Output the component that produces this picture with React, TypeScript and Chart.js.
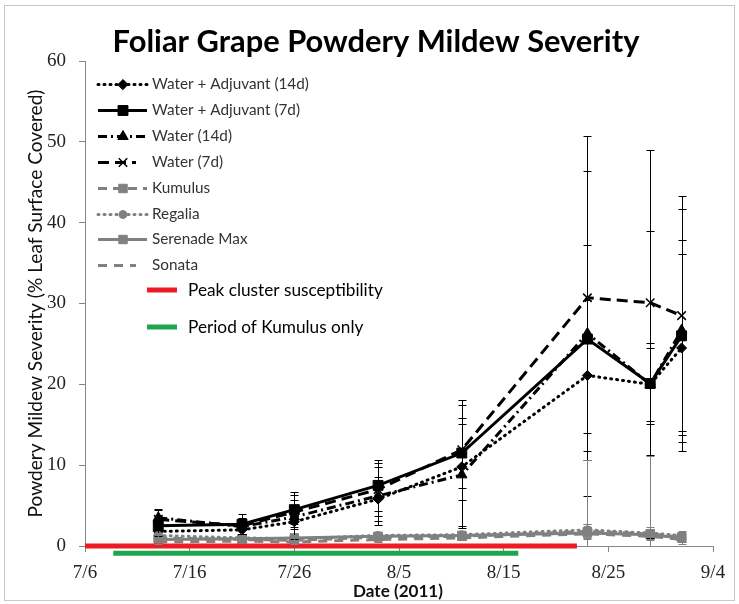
import React, { useEffect, useRef } from 'react';
import { Chart, registerables } from 'chart.js';
import { drawPoint } from 'chart.js/helpers';

Chart.register(...registerables);

// x values: days after 7/6/2011
const dateDays = [7, 15, 20, 28, 36, 48, 54, 57];
const xTickLabels = ['7/6', '7/16', '7/26', '8/5', '8/15', '8/25', '9/4'];

const waterAdj14 = [1.8, 2.0, 3.0, 5.8, 9.8, 21.1, 20.0, 24.5];
const waterAdj14Err = [0.6, 0.5, 0.9, 2.7, 7.6, 9.3, 4.5, 11.6];
const waterAdj7 = [2.5, 2.7, 4.5, 7.5, 11.5, 25.6, 20.1, 26.0];
const waterAdj7Err = [1.2, 1.3, 2.2, 3.2, 4.3, 11.6, 5.0, 11.8];
const water14 = [3.5, 2.4, 3.6, 6.2, 8.8, 26.3, 20.0, 26.7];
const water14Err = [1.0, 0.9, 2.7, 3.6, 6.3, 20.1, 19.0, 15.0];
const water7 = [3.3, 2.5, 4.2, 7.0, 11.9, 30.7, 30.1, 28.5];
const water7Err = [1.3, 1.0, 1.5, 3.3, 6.2, 20.0, 18.9, 14.8];
const kumulus = [1.0, 0.8, 0.7, 1.1, 1.2, 1.8, 1.5, 1.1];
const kumulusErr = [0.4, 0.3, 0.3, 0.4, 0.4, 0.9, 0.6, 0.8];
const regalia = [1.3, 1.0, 0.9, 1.3, 1.4, 2.0, 1.6, 1.3];
const regaliaErr = [0.3, 0.3, 0.3, 0.3, 0.3, 0.7, 0.7, 0.4];
const serenadeMax = [0.8, 0.9, 1.0, 1.2, 1.3, 1.6, 1.4, 1.0];
const serenadeMaxErr = [0.3, 0.2, 0.3, 0.3, 0.4, 9.0, 9.7, 0.5];
const sonata = [0.5, 0.6, 0.5, 0.8, 1.0, 1.5, 1.2, 0.8];
const sonataErr = [0.3, 0.2, 0.2, 0.3, 0.3, 0.5, 0.4, 0.3];

const peakDays = [0, 47];
const peakLevel = [0, 0];
const kumulusOnlyDays = [2.7, 41.4];
const kumulusOnlyLevel = [-0.9, -0.9];

const TITLE = 'Foliar Grape Powdery Mildew Severity';
const Y_TITLE = 'Powdery Mildew Severity (% Leaf Surface Covered)';
const X_TITLE = 'Date (2011)';

const BLACK = '#000000';
const GRAY = '#808080';
const RED = '#ed1c24';
const GREEN = '#1fa64c';
const AXIS = '#868686';

const pts = (xs: number[], ys: number[]) => xs.map((x, i) => ({ x, y: ys[i] }));

function series(label: string, vals: number[], errs: number[], color: string, dash: number[], style: any, radius: number, extra: any = {}) {
  return {
    label,
    data: pts(dateDays, vals),
    errors: errs,
    borderColor: color,
    backgroundColor: color,
    pointBackgroundColor: color,
    pointBorderColor: color,
    borderWidth: 3,
    borderDash: dash,
    pointStyle: style,
    pointRadius: radius,
    pointBorderWidth: 1,
    tension: 0,
    inLegend: true,
    ...extra,
  };
}

function fitSize(ctx: CanvasRenderingContext2D, text: string, weight: string, family: string, width: number) {
  ctx.font = `${weight} 100px ${family}`;
  return (100 * width) / ctx.measureText(text).width;
}

const errorBarPlugin = {
  id: 'errorBars',
  afterDatasetsDraw(chart: any) {
    const { ctx, chartArea, scales } = chart;
    const x = scales.x;
    const y = scales.y;
    ctx.save();
    ctx.beginPath();
    ctx.rect(chartArea.left, chartArea.top - 3, chartArea.right - chartArea.left, chartArea.bottom - chartArea.top + 3);
    ctx.clip();
    ctx.setLineDash([]);
    ctx.lineWidth = 1;
    chart.data.datasets.forEach((ds: any) => {
      if (!ds.errors) return;
      ctx.strokeStyle = ds.borderColor;
      ds.data.forEach((p: any, i: number) => {
        const e = ds.errors[i];
        const px = Math.round(x.getPixelForValue(p.x)) + 0.5;
        const top = Math.round(y.getPixelForValue(p.y + e)) + 0.5;
        const bot = Math.round(y.getPixelForValue(p.y - e)) + 0.5;
        ctx.beginPath();
        ctx.moveTo(px, top);
        ctx.lineTo(px, bot);
        ctx.moveTo(px - 4, top);
        ctx.lineTo(px + 4, top);
        ctx.moveTo(px - 4, bot);
        ctx.lineTo(px + 4, bot);
        ctx.stroke();
      });
    });
    ctx.restore();
  },
};

const textPlugin = {
  id: 'texts',
  beforeDraw(chart: any) {
    const { ctx, width, height } = chart;
    ctx.save();
    ctx.fillStyle = '#ffffff';
    ctx.fillRect(0, 0, width, height);
    ctx.strokeStyle = '#c8c8c8';
    ctx.lineWidth = 1;
    ctx.strokeRect(4.5, 5.5, 730, 595);
    ctx.restore();
  },
  afterDraw(chart: any) {
    const { ctx, chartArea } = chart;
    ctx.save();
    // Title
    const ts = fitSize(ctx, TITLE, 'bold', 'Lato', 527);
    ctx.font = `bold ${ts}px Lato`;
    ctx.fillStyle = '#000';
    ctx.textAlign = 'center';
    ctx.textBaseline = 'alphabetic';
    ctx.fillText(TITLE, 376, 52);

    // Y title
    const ys = fitSize(ctx, Y_TITLE, 'normal', 'Lato', 428);
    ctx.save();
    ctx.translate(36, (chartArea.top + chartArea.bottom) / 2);
    ctx.rotate(-Math.PI / 2);
    ctx.font = `normal ${ys}px Lato`;
    ctx.textBaseline = 'middle';
    ctx.fillStyle = '#111';
    ctx.fillText(Y_TITLE, 0, 0);
    ctx.restore();

    // X title
    const xs = fitSize(ctx, X_TITLE, 'bold', 'Lato', 90);
    ctx.font = `bold ${xs}px Lato`;
    ctx.textBaseline = 'middle';
    ctx.fillStyle = '#111';
    ctx.fillText(X_TITLE, 398, 591);

    // Legend
    const entries = chart.data.datasets.filter((d: any) => d.inLegend);
    const ls = fitSize(ctx, 'Water + Adjuvant (14d)', 'normal', 'Lato', 157);
    entries.forEach((ds: any, i: number) => {
      const ry = Math.round(84 + i * 25.9) + 0.5;
      const end = ds.shortSample ? 136 : 147;
      ctx.save();
      ctx.strokeStyle = ds.borderColor;
      ctx.lineWidth = ds.borderWidth;
      ctx.lineCap = ds.borderCapStyle || 'butt';
      ctx.setLineDash(ds.borderDash || []);
      ctx.beginPath();
      ctx.moveTo(98, ry);
      ctx.lineTo(end, ry);
      ctx.stroke();
      ctx.setLineDash([]);
      if (ds.pointRadius > 0) {
        ctx.fillStyle = ds.pointBackgroundColor;
        ctx.strokeStyle = ds.pointBorderColor;
        ctx.lineWidth = ds.pointBorderWidth;
        drawPoint(ctx, { pointStyle: ds.pointStyle, radius: ds.pointRadius, borderWidth: ds.pointBorderWidth, rotation: 0 }, 123, ry);
      }
      ctx.restore();
      ctx.font = `normal ${ls}px Lato`;
      ctx.fillStyle = '#333';
      ctx.textAlign = 'left';
      ctx.textBaseline = 'middle';
      ctx.fillText(ds.label, 152, ry);
    });

    const bands = chart.data.datasets.filter((d: any) => d.bandLegend);
    const bs = fitSize(ctx, 'Peak cluster susceptibility', 'normal', 'Lato', 195);
    bands.forEach((ds: any, i: number) => {
      const ry = i === 0 ? 290 : 327;
      ctx.strokeStyle = ds.borderColor;
      ctx.lineWidth = 5;
      ctx.setLineDash([]);
      ctx.beginPath();
      ctx.moveTo(147, ry);
      ctx.lineTo(177, ry);
      ctx.stroke();
      ctx.font = `normal ${bs}px Lato`;
      ctx.fillStyle = '#000';
      ctx.textAlign = 'left';
      ctx.textBaseline = 'middle';
      ctx.fillText(ds.label, 188, ry);
    });
    ctx.restore();
  },
};

export default function App() {
  const ref = useRef<HTMLCanvasElement | null>(null);
  useEffect(() => {
    if (!ref.current) return;
    const datasets: any[] = [
      series('Water + Adjuvant (14d)', waterAdj14, waterAdj14Err, BLACK, [1, 5], 'rectRot', 5, { borderCapStyle: 'round', order: 2 }),
      series('Water + Adjuvant (7d)', waterAdj7, waterAdj7Err, BLACK, [], 'rect', 7, { order: 2 }),
      series('Water (14d)', water14, water14Err, BLACK, [9, 4, 2, 4], 'triangle', 6, { order: 2 }),
      series('Water (7d)', water7, water7Err, BLACK, [11, 6], 'crossRot', 6, { order: 2, pointBorderWidth: 1.5, shortSample: true }),
      series('Kumulus', kumulus, kumulusErr, GRAY, [9, 6], 'rect', 6, { order: 1 }),
      series('Regalia', regalia, regaliaErr, GRAY, [1, 5], 'circle', 4, { borderCapStyle: 'round', order: 1 }),
      series('Serenade Max', serenadeMax, serenadeMaxErr, GRAY, [], 'rect', 6, { order: 1 }),
      series('Sonata', sonata, sonataErr, GRAY, [9, 7], 'circle', 0, { order: 1, shortSample: true }),
      {
        label: 'Peak cluster susceptibility',
        data: pts(peakDays, peakLevel),
        borderColor: RED,
        backgroundColor: RED,
        borderWidth: 5,
        pointRadius: 0,
        clip: false,
        order: 0,
        bandLegend: true,
      },
      {
        label: 'Period of Kumulus only',
        data: pts(kumulusOnlyDays, kumulusOnlyLevel),
        borderColor: GREEN,
        backgroundColor: GREEN,
        borderWidth: 5,
        pointRadius: 0,
        clip: false,
        order: 0,
        bandLegend: true,
      },
    ];

    const chart = new Chart(ref.current, {
      type: 'line',
      data: { datasets },
      options: {
        animation: false,
        responsive: false,
        devicePixelRatio: 1,
        layout: { padding: { left: 0, top: 61, right: 26, bottom: 0 } },
        plugins: {
          legend: { display: false },
          tooltip: { enabled: false },
          title: { display: false },
        },
        scales: {
          x: {
            type: 'linear',
            min: 0,
            max: 60,
            ticks: {
              stepSize: 10,
              padding: 10,
              color: '#222',
              font: { family: 'Liberation Serif', size: 19 },
              callback: (_v: any, i: number) => xTickLabels[i],
            },
            grid: { drawOnChartArea: false, drawTicks: true, tickLength: 6, color: AXIS },
            border: { display: true, color: AXIS, width: 1 },
            afterFit: (s: any) => { s.height = 58; },
          },
          y: {
            type: 'linear',
            min: 0,
            max: 60,
            ticks: {
              stepSize: 10,
              padding: 13,
              color: '#222',
              font: { family: 'Liberation Serif', size: 19 },
            },
            grid: { drawOnChartArea: false, drawTicks: true, tickLength: 6, color: AXIS },
            border: { display: true, color: AXIS, width: 1 },
            afterFit: (s: any) => { s.width = 85; },
          },
        },
      } as any,
      plugins: [errorBarPlugin, textPlugin],
    });
    return () => chart.destroy();
  }, []);

  return (
    <div style={{ position: 'absolute', left: 0, top: 0, width: 739, height: 604, background: '#fff' }}>
      <canvas ref={ref} width={739} height={604} style={{ display: 'block', width: 739, height: 604 }} />
    </div>
  );
}
